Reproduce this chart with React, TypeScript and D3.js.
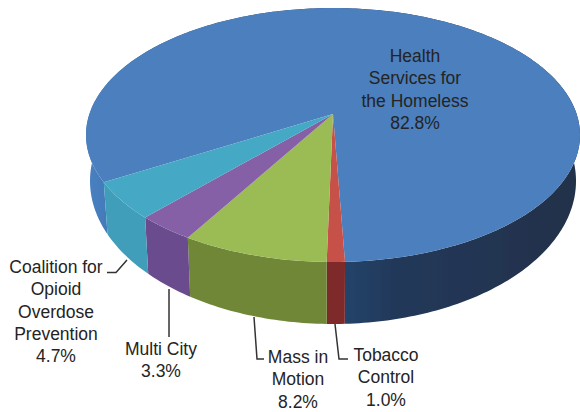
import React from "react";
import * as d3 from "d3";

const categories = ["Tobacco Control", "Mass in Motion", "Multi City", "Coalition for Opioid Overdose Prevention", "Health Services for the Homeless"];
const shares = [1.0, 8.2, 3.3, 4.7, 82.8];
const topColors = ["#c5514a", "#9bbb55", "#8560a6", "#45a8c4", "#4c7fbd"];
const wallColors = ["#7e2c2c", "#6f8739", "#6a4b8e", "#3f9ebb", "url(#blueWall)"];

const labelLines = [
  ["Tobacco", "Control", "1.0%"],
  ["Mass in", "Motion", "8.2%"],
  ["Multi City", "3.3%"],
  ["Coalition for", "Opioid", "Overdose", "Prevention", "4.7%"],
  ["Health", "Services for", "the Homeless", "82.8%"],
];
const labelAnchors = [
  { x: 386, y: 361 },
  { x: 298, y: 363 },
  { x: 161, y: 355 },
  { x: 56, y: 273 },
  { x: 415, y: 62 },
];
const leaders = [
  [[335, 324], [339, 359], [348, 359]],
  [[254, 317], [257, 359], [264, 359]],
  [[169, 289], [169, 337]],
  [[107, 272.5], [116, 272.5], [127, 260]],
];

const W = 580, H = 412;
const eccentric = 0.165;
const startAngle = (-2.36 * Math.PI) / 180;

const topX = d3.scaleLinear().domain([-1, 1]).range([86, 580]);
const topY = d3.scaleLinear().domain([-1, 1]).range([8, 262]);
const botX = d3.scaleLinear().domain([-1, 1]).range([90, 576]);
const botY = d3.scaleLinear().domain([-1, 1]).range([38, 324]);

function project(a: number): [number, number] {
  const u = -Math.sin(a), v = Math.cos(a), d = 1 - eccentric * v;
  return [(u * Math.sqrt(1 - eccentric * eccentric)) / d, (v - eccentric) / d];
}
function rim(a0: number, a1: number): [number, number][] {
  const n = Math.max(4, Math.ceil(Math.abs(a1 - a0) * 60));
  return d3.range(n + 1).map((i) => project(a0 + ((a1 - a0) * i) / n));
}

const arcs = d3.pie<number>().sort(null).startAngle(startAngle).endAngle(startAngle + 2 * Math.PI)(shares);
const line = d3.line();

export default function App() {
  const apex: [number, number] = [topX(0), topY(-eccentric)];
  return (
    <svg width={W} height={H} viewBox={`0 0 ${W} ${H}`} style={{ position: "absolute", left: 0, top: 0, background: "#fff" }}>
      <defs>
        <linearGradient id="blueWall" gradientUnits="userSpaceOnUse" x1={86} x2={580} y1={0} y2={0}>
          <stop offset="0" stopColor="#4a82c2" />
          <stop offset="0.07" stopColor="#3f74b3" />
          <stop offset="0.12" stopColor="#33557f" />
          <stop offset="0.52" stopColor="#24446b" />
          <stop offset="0.62" stopColor="#22395a" />
          <stop offset="1" stopColor="#20304a" />
        </linearGradient>
        <filter id="soft" x="-2%" y="-2%" width="104%" height="104%">
          <feGaussianBlur stdDeviation="0.45" />
        </filter>
      </defs>
      <g filter="url(#soft)">
        {[4, 0, 1, 2, 3].map((i) => {
          const pts = rim(arcs[i].startAngle, arcs[i].endAngle);
          const t = pts.map(([x, y]) => [topX(x), topY(y)] as [number, number]);
          const b = pts.map(([x, y]) => [botX(x), botY(y)] as [number, number]).reverse();
          return <path key={categories[i] + "w"} d={line([...t, ...b]) + "Z"} fill={wallColors[i]} />;
        })}
        {[4, 0, 1, 2, 3].map((i) => {
          const t = rim(arcs[i].startAngle, arcs[i].endAngle).map(([x, y]) => [topX(x), topY(y)] as [number, number]);
          return <path key={categories[i]} d={line([apex, ...t]) + "Z"} fill={topColors[i]} />;
        })}
      </g>
      {leaders.map((l, i) => (
        <path key={i} d={line(l as [number, number][]) ?? ""} fill="none" stroke="#333" strokeWidth={1.5} />
      ))}
      {labelLines.map((lines, i) => (
        <text key={i} textAnchor="middle" fontFamily="'Liberation Sans', Arial, sans-serif" fontSize={17.5} fill="#242424">
          {lines.map((s, j) => (
            <tspan key={j} x={labelAnchors[i].x} y={labelAnchors[i].y + j * 22.3}>{s}</tspan>
          ))}
        </text>
      ))}
    </svg>
  );
}
